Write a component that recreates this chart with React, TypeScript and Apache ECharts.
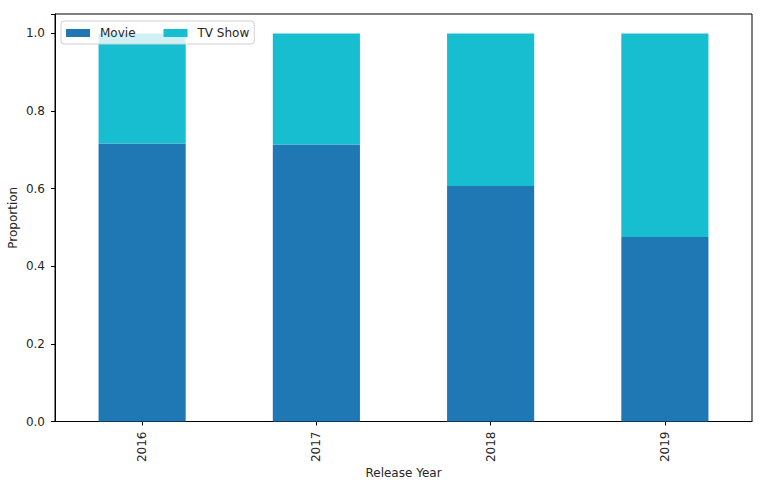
import React, { useEffect, useRef } from "react";
import * as echarts from "echarts";

const years = ["2016", "2017", "2018", "2019"];
const movie = [0.716, 0.7135, 0.607, 0.4754];
const tvShow = movie.map((m) => +(1 - m).toFixed(4));
const yTicks = [0, 0.2, 0.4, 0.6, 0.8, 1.0];

const FONT = "DejaVu Sans";
const TXT = "#262626";

export default function App() {
  const ref = useRef<HTMLDivElement>(null);
  useEffect(() => {
    if (!ref.current) return;
    const chart = echarts.init(ref.current, undefined, { renderer: "svg" });
    chart.setOption({
      animation: false,
      backgroundColor: "#ffffff",
      textStyle: { fontFamily: FONT },
      grid: {
        left: 55,
        right: 18,
        top: 14,
        bottom: 64.5,
        outerBoundsMode: "none",
        containLabel: false,
        show: true,
        borderColor: "#000",
        borderWidth: 1,
        backgroundColor: "transparent",
      },
      legend: {
        left: 61,
        top: 21,
        orient: "horizontal",
        padding: [6, 5, 5, 5],
        itemGap: 28,
        itemWidth: 24,
        itemHeight: 8,
        icon: "rect",
        borderColor: "#d0d0d0",
        borderWidth: 1,
        borderRadius: 3,
        backgroundColor: "rgba(255,255,255,0.8)",
        textStyle: { fontFamily: FONT, fontSize: 12, color: TXT, padding: [0, 0, 0, 5] },
        data: ["Movie", "TV Show"],
      },
      xAxis: {
        type: "category",
        data: years,
        name: "Release Year",
        nameLocation: "middle",
        nameGap: 45,
        nameMoveOverlap: false,
        nameTextStyle: { fontFamily: FONT, fontSize: 12, color: TXT },
        axisLine: { show: true, lineStyle: { color: "#000", width: 1 } },
        axisTick: { show: true, alignWithLabel: true, length: 4, lineStyle: { color: "#000" } },
        axisLabel: { rotate: 90, fontFamily: FONT, fontSize: 12, color: TXT, margin: 10 },
        splitLine: { show: false },
      },
      yAxis: {
        type: "value",
        min: 0,
        max: 1.05,
        interval: 0.2,
        name: "Proportion",
        nameLocation: "middle",
        nameGap: 36,
        nameMoveOverlap: false,
        nameTextStyle: { fontFamily: FONT, fontSize: 12, color: TXT },
        axisLine: { show: true, lineStyle: { color: "#000", width: 1 } },
        axisTick: { show: true, length: 4, lineStyle: { color: "#000" } },
        axisLabel: {
          fontFamily: FONT,
          fontSize: 12,
          color: TXT,
          margin: 10,
          formatter: (v: number) => (yTicks.some((t) => Math.abs(t - v) < 1e-9) ? v.toFixed(1) : ""),
        },
        splitLine: { show: false },
      },
      series: [
        {
          name: "Movie",
          type: "bar",
          stack: "total",
          data: movie,
          barWidth: "50%",
          itemStyle: { color: "#1f77b4" },
        },
        {
          name: "TV Show",
          type: "bar",
          stack: "total",
          data: tvShow,
          barWidth: "50%",
          itemStyle: { color: "#17becf" },
        },
      ],
    });
    return () => chart.dispose();
  }, []);
  return (
    <div
      ref={ref}
      style={{ position: "absolute", left: 0, top: 0, width: 770, height: 486 }}
    />
  );
}
